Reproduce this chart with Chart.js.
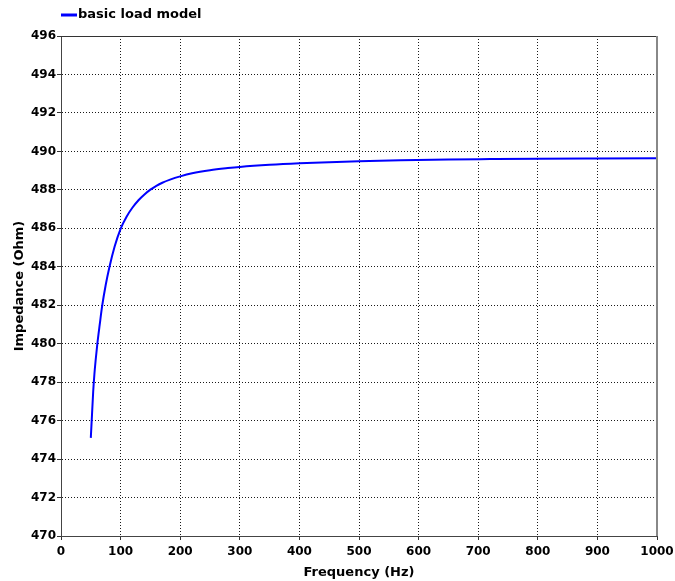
<!DOCTYPE html>
<html>
<head>
<meta charset="utf-8">
<script src="https://cdn.jsdelivr.net/npm/chart.js@4/dist/chart.umd.min.js"></script>
<style>
  html, body { margin: 0; padding: 0; background: #ffffff; }
  #wrap { width: 675px; height: 581px; }
</style>
</head>
<body>
<div id="wrap"><canvas id="c" width="675" height="581"></canvas></div>
<script>
// Impedance of the basic load model versus frequency
const seriesLabel = 'basic load model';
const frequencyHz = [50, 52, 54, 56, 58, 61, 65, 69, 75, 81, 90, 100, 110, 120, 130, 140, 150, 160, 170, 183, 200, 220, 250, 280, 300, 350, 400, 450, 500, 570, 650, 720, 800, 900, 1000];
const impedanceOhm = [475.1, 476.3, 477.5, 478.4, 479.1, 480.0, 481.0, 481.95, 483.05, 483.95, 485.05, 485.97, 486.6, 487.08, 487.46, 487.76, 488.01, 488.21, 488.37, 488.53, 488.7, 488.86, 489.02, 489.13, 489.19, 489.3, 489.38, 489.44, 489.49, 489.54, 489.58, 489.6, 489.62, 489.635, 489.645];
const xTicks = [0, 100, 200, 300, 400, 500, 600, 700, 800, 900, 1000];
const yTicks = [470, 472, 474, 476, 478, 480, 482, 484, 486, 488, 490, 492, 494, 496];

const FONT = 'DejaVu Sans';
const LINE_COLOR = '#0000ff';

// Top and right edges of the plot frame
const framePlugin = {
  id: 'frame',
  afterDraw(chart) {
    const { ctx, chartArea: a } = chart;
    ctx.save();
    ctx.lineWidth = 1;
    ctx.strokeStyle = '#333333';
    ctx.beginPath();
    ctx.moveTo(a.left, Math.round(a.top) + 0.5);
    ctx.lineTo(a.right, Math.round(a.top) + 0.5);
    ctx.stroke();
    ctx.strokeStyle = '#888888';
    ctx.lineWidth = 2;
    ctx.beginPath();
    ctx.moveTo(Math.round(a.right), a.top);
    ctx.lineTo(Math.round(a.right), a.bottom);
    ctx.stroke();
    ctx.restore();
  }
};

// Compact legend: a short line swatch followed by the series name
const swatchLegend = {
  id: 'swatchLegend',
  afterDraw(chart) {
    const { ctx, chartArea: a } = chart;
    const ds = chart.data.datasets[0];
    const y = 15;
    ctx.save();
    ctx.strokeStyle = ds.borderColor;
    ctx.lineWidth = 3;
    ctx.beginPath();
    ctx.moveTo(a.left, y);
    ctx.lineTo(a.left + 16, y);
    ctx.stroke();
    ctx.fillStyle = '#000000';
    ctx.font = 'bold 13px "' + FONT + '"';
    ctx.textBaseline = 'middle';
    ctx.textAlign = 'left';
    ctx.fillText(ds.label, a.left + 17, y);
    ctx.restore();
  }
};

const points = frequencyHz.map((f, i) => ({ x: f, y: impedanceOhm[i] }));

const gridStyle = {
  color: '#1a1a1a',
  lineWidth: 1,
  tickLength: 4,
  tickColor: '#333333',
  tickBorderDash: []
};
const borderStyle = { display: true, color: '#444444', width: 1, dash: [1, 2] };

new Chart(document.getElementById('c'), {
  type: 'line',
  data: {
    datasets: [{
      label: seriesLabel,
      data: points,
      borderColor: LINE_COLOR,
      backgroundColor: LINE_COLOR,
      borderWidth: 2,
      pointRadius: 0,
      cubicInterpolationMode: 'monotone',
      fill: false
    }]
  },
  options: {
    responsive: false,
    devicePixelRatio: 1,
    animation: false,
    layout: { padding: { top: 36, right: 18, bottom: 0, left: 0 } },
    plugins: {
      legend: { display: false },
      tooltip: { enabled: false }
    },
    scales: {
      x: {
        type: 'linear',
        min: 0,
        max: 1000,
        afterBuildTicks(s) { s.ticks = xTicks.map(v => ({ value: v })); },
        afterFit(s) {
          s.height = 45;
          s.paddingLeft = 0;
          s.paddingRight = 0;
        },
        ticks: {
          color: '#000000',
          font: { family: FONT, size: 12, weight: 'bold' },
          padding: 5,
          maxRotation: 0,
          autoSkip: false,
          callback: v => String(v)
        },
        grid: gridStyle,
        border: borderStyle,
        title: {
          display: true,
          text: 'Frequency (Hz)',
          color: '#000000',
          font: { family: FONT, size: 13, weight: 'bold' },
          padding: { top: 0, bottom: 1 }
        }
      },
      y: {
        type: 'linear',
        min: 470,
        max: 496,
        afterBuildTicks(s) { s.ticks = yTicks.map(v => ({ value: v })); },
        afterFit(s) {
          s.width = 61;
          s.paddingTop = 0;
          s.paddingBottom = 0;
        },
        ticks: {
          color: '#000000',
          font: { family: FONT, size: 12, weight: 'bold' },
          padding: 1,
          autoSkip: false,
          callback: v => String(v)
        },
        grid: gridStyle,
        border: borderStyle,
        title: {
          display: true,
          text: 'Impedance (Ohm)',
          color: '#000000',
          font: { family: FONT, size: 13, weight: 'bold' },
          padding: { top: 12, bottom: 0 }
        }
      }
    }
  },
  plugins: [framePlugin, swatchLegend]
});
</script>
</body>
</html>
